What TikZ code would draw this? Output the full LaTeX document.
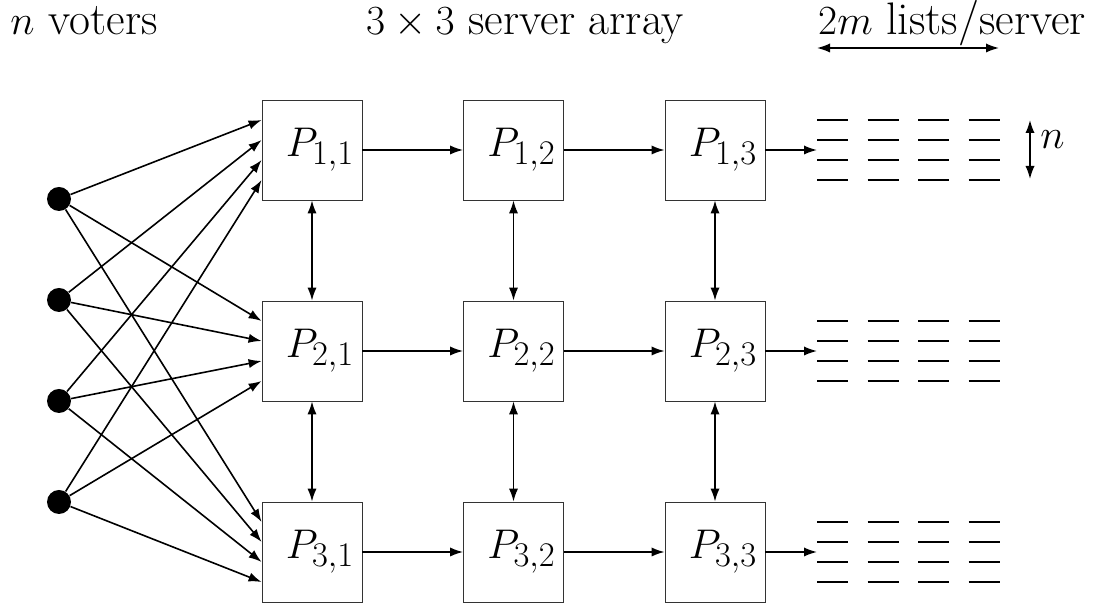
\documentclass[tikz,border=0pt]{standalone}
\usepackage{tikz}
\usetikzlibrary{arrows.meta}

\begin{document}
\begin{tikzpicture}[x=50pt, y=50pt, >={Latex[length=6.5pt, width=4.6pt]},
		every node/.style={font=\fontsize{22.8}{27}\selectfont},
		heading/.style={anchor=base, inner sep=0pt},
		server/.style={draw, black!80, text=black, minimum size=50pt, inner sep=0pt},
		voter/.style={circle, fill, minimum size=12pt, inner sep=0pt},
		link/.style={thick, ->}]
			\useasboundingbox (0,0) rectangle (10.99,6.10);

			% Headings
			\node[heading] (voters) at (0.84,5.75) {$n$ voters};
			\node[heading] (array) at (5.25,5.75) {$3\times3$ server array};
			\node[heading] (lists) at (9.52,5.75) {$2m$ lists/server};

			% Server array
			\foreach \i in {1,2,3}
				\foreach \j in {1,2,3}
					\node[server] (P\i\j) at ({3.12+2.015*(\j-1)},{4.60-2.01*(\i-1)}) {\hspace{8pt}$P_{\i,\j}$};

			% Voters
			\foreach \v in {1,2,3,4}
				\node[voter] (v\v) at (0.59,{5.12-1.01*\v}) {};

			% Voters to first column
			\foreach \v in {1,2,3,4}
				\foreach \i in {1,2,3}
					\draw[link] (v\v) -- ([yshift={(5-2*\v)*5pt}]P\i1.west);

			% Rows and columns
			\foreach \i in {1,2,3} {
				\draw[link] (P\i1) -- (P\i2);
				\draw[link] (P\i2) -- (P\i3);
			}
			\foreach \j in {1,2,3} {
				\draw[thick, <->] (P1\j) -- (P2\j);
				\draw[thick, <->] (P2\j) -- (P3\j);
			}

			% Lists
			\foreach \i in {1,2,3} {
				\coordinate (L\i) at (8.17,{4.60-2.01*(\i-1)});
				\draw[link] (P\i3) -- (L\i);
				\foreach \k in {0,1,2,3}
					\foreach \l in {0.3,0.1,-0.1,-0.3}
						\draw[thick] ([shift={(0.505*\k,\l)}]L\i) -- ++(0.31,0);
			}

			% Sizes
			\coordinate (wl) at (8.17,5.62);
			\coordinate (wr) at (9.99,5.62);
			\draw[thick, <->] (wl) -- (wr);
			\coordinate (ht) at (10.30,4.90);
			\coordinate (hb) at (10.30,4.31);
			\draw[thick, <->] (ht) -- (hb);
			\node[anchor=west, inner sep=0pt] (n) at (10.40,4.70) {$n$};
		\end{tikzpicture}
\end{document}
